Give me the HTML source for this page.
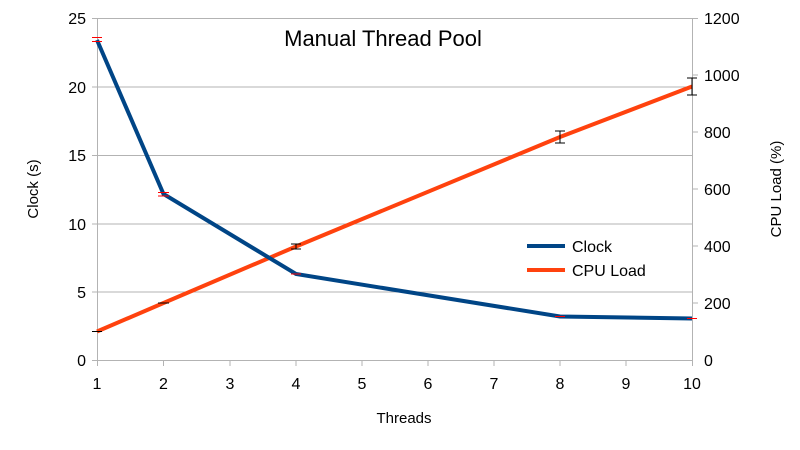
<!DOCTYPE html>
<html><head><style>body{margin:0;background:#fff}svg{display:block}text{font-family:"Liberation Sans",sans-serif;fill:#000}</style></head>
<body>
<svg width="800" height="450" viewBox="0 0 800 450">
<g stroke="#b3b3b3" stroke-width="1">
<line x1="97" y1="18.5" x2="692" y2="18.5"/>
<line x1="97" y1="87" x2="692" y2="87"/>
<line x1="97" y1="155.5" x2="692" y2="155.5"/>
<line x1="97" y1="224" x2="692" y2="224"/>
<line x1="97" y1="292" x2="692" y2="292"/>
<line x1="97" y1="360.5" x2="692" y2="360.5"/>
<line x1="97.5" y1="18" x2="97.5" y2="366"/>
<line x1="692.5" y1="18" x2="692.5" y2="366"/>
<line x1="92" y1="18.5" x2="97" y2="18.5"/><line x1="92" y1="87" x2="97" y2="87"/><line x1="92" y1="155.5" x2="97" y2="155.5"/><line x1="92" y1="224" x2="97" y2="224"/><line x1="92" y1="292" x2="97" y2="292"/><line x1="92" y1="360.5" x2="97" y2="360.5"/>
<line x1="692" y1="75" x2="698" y2="75"/><line x1="692" y1="132" x2="698" y2="132"/><line x1="692" y1="189" x2="698" y2="189"/><line x1="692" y1="246" x2="698" y2="246"/><line x1="692" y1="303" x2="698" y2="303"/><line x1="692" y1="18.5" x2="698" y2="18.5"/>
<line x1="163.5" y1="360" x2="163.5" y2="366"/><line x1="230" y1="360" x2="230" y2="366"/><line x1="296" y1="360" x2="296" y2="366"/><line x1="362" y1="360" x2="362" y2="366"/><line x1="428" y1="360" x2="428" y2="366"/><line x1="494" y1="360" x2="494" y2="366"/><line x1="560" y1="360" x2="560" y2="366"/><line x1="626" y1="360" x2="626" y2="366"/>
</g>
<g font-size="16" text-anchor="end">
<text x="86" y="24">25</text><text x="86" y="93">20</text><text x="86" y="161">15</text><text x="86" y="230">10</text><text x="86" y="298">5</text><text x="86" y="366">0</text>
</g>
<g font-size="16" text-anchor="start">
<text x="704" y="24">1200</text><text x="704" y="81">1000</text><text x="704" y="138">800</text><text x="704" y="195">600</text><text x="704" y="252">400</text><text x="704" y="309">200</text><text x="704" y="366">0</text>
</g>
<g font-size="16" text-anchor="middle">
<text x="97" y="389">1</text><text x="163.5" y="389">2</text><text x="230" y="389">3</text><text x="296" y="389">4</text><text x="362" y="389">5</text><text x="428" y="389">6</text><text x="494" y="389">7</text><text x="560" y="389">8</text><text x="626" y="389">9</text><text x="692" y="389">10</text>
</g>
<text x="404" y="423" font-size="15" text-anchor="middle">Threads</text>
<text x="38" y="189" font-size="15" text-anchor="middle" transform="rotate(-90 38 189)">Clock (s)</text>
<text x="781" y="189" font-size="15" text-anchor="middle" transform="rotate(-90 781 189)">CPU Load (%)</text>
<text x="383" y="46" font-size="22" text-anchor="middle">Manual Thread Pool</text>
<polyline fill="none" stroke="#ff420e" stroke-width="4" points="97,331.5 163.5,303 296,246.5 560,137 692,86.5"/>
<polyline fill="none" stroke="#004586" stroke-width="4" points="97,40 163.5,194 296,274 560,316.5 692,318.5"/>
<g stroke="#000" stroke-width="1">
<line x1="92" y1="331.5" x2="102" y2="331.5"/>
<line x1="158" y1="303" x2="169" y2="303"/>
<line x1="296" y1="244" x2="296" y2="249"/><line x1="291" y1="244" x2="301" y2="244"/><line x1="291" y1="249" x2="301" y2="249"/>
<line x1="560" y1="131" x2="560" y2="143"/><line x1="555" y1="131" x2="565" y2="131"/><line x1="555" y1="143" x2="565" y2="143"/>
<line x1="692" y1="78" x2="692" y2="95"/><line x1="687" y1="78" x2="697" y2="78"/><line x1="687" y1="95" x2="697" y2="95"/>
</g>
<g stroke="#ff0000" stroke-width="1">
<line x1="92" y1="37.5" x2="102" y2="37.5"/><line x1="92" y1="41.5" x2="102" y2="41.5"/>
<line x1="158" y1="192.5" x2="169" y2="192.5"/><line x1="158" y1="196" x2="169" y2="196"/>
<line x1="291" y1="274" x2="301" y2="274"/>
<line x1="555" y1="316.5" x2="565" y2="316.5"/>
<line x1="687" y1="318.5" x2="697" y2="318.5"/>
</g>
<line x1="527" y1="246" x2="565" y2="246" stroke="#004586" stroke-width="4"/>
<line x1="527" y1="270" x2="565" y2="270" stroke="#ff420e" stroke-width="4"/>
<text x="572" y="252" font-size="16">Clock</text>
<text x="572" y="276" font-size="16">CPU Load</text>
</svg>
</body></html>
